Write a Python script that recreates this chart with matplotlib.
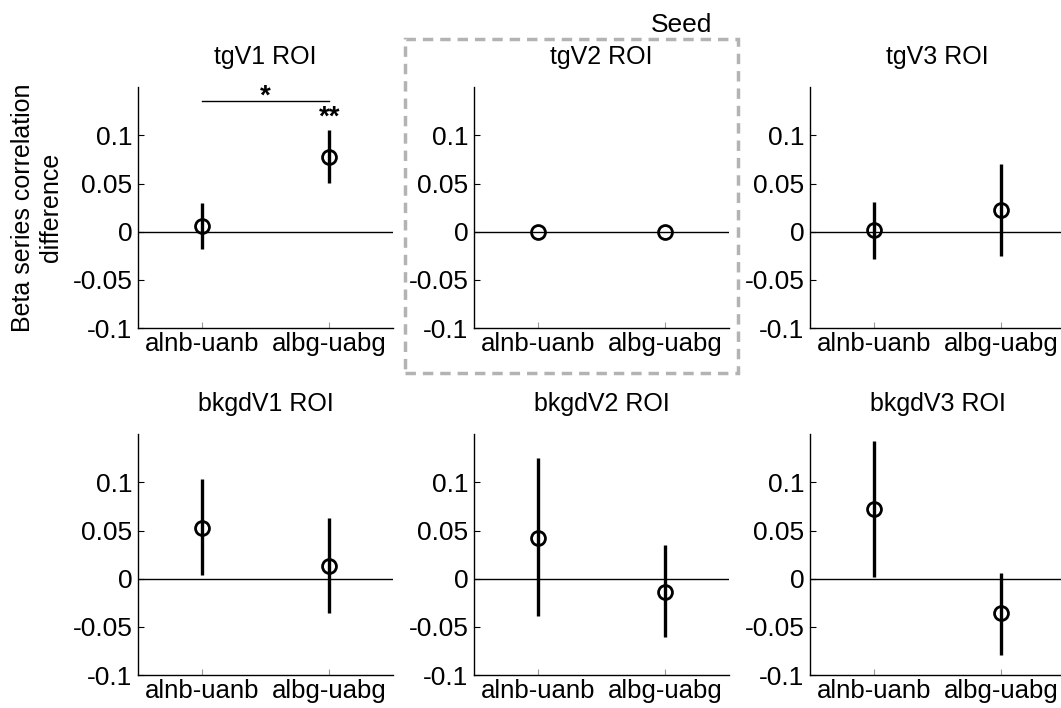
import matplotlib.pyplot as plt
from matplotlib.patches import Rectangle

plt.rcParams['font.family'] = ['Liberation Sans', 'DejaVu Sans']

# Data
conditions = ['alnb-uanb', 'albg-uabg']
titles = ['tgV1 ROI', 'tgV2 ROI', 'tgV3 ROI', 'bkgdV1 ROI', 'bkgdV2 ROI', 'bkgdV3 ROI']
means = [
    [0.006, 0.078],
    [0.0, 0.0],
    [0.002, 0.023],
    [0.053, 0.013],
    [0.042, -0.0135],
    [0.072, -0.036],
]
err_low = [
    [-0.018, 0.051],
    [0.0, 0.0],
    [-0.028, -0.025],
    [0.004, -0.036],
    [-0.039, -0.061],
    [0.002, -0.079],
]
err_high = [
    [0.030, 0.106],
    [0.0, 0.0],
    [0.031, 0.070],
    [0.104, 0.063],
    [0.125, 0.035],
    [0.143, 0.006],
]
yticks = [-0.1, -0.05, 0, 0.05, 0.1]
ytick_labels = ['-0.1', '-0.05', '0', '0.05', '0.1']

fig = plt.figure(figsize=(10.61, 7.08), dpi=100)

lefts = [0.1301, 0.4467, 0.7634]
bottoms = [0.5367, 0.0466]
w, h = 0.2403, 0.340

x = [1, 2]
axes = []
for i in range(6):
    r, c = divmod(i, 3)
    ax = fig.add_axes([lefts[c], bottoms[r], w, h])
    axes.append(ax)
    m = means[i]
    lo = [m[k] - err_low[i][k] for k in range(2)]
    hi = [err_high[i][k] - m[k] for k in range(2)]
    ax.axhline(0, color='black', lw=1, zorder=1)
    ax.errorbar(x, m, yerr=[lo, hi], fmt='o', color='black', ecolor='black',
                elinewidth=2.4, capsize=0, markersize=10, markerfacecolor='none',
                markeredgewidth=2, zorder=3)
    ax.set_xlim(0.5, 2.5)
    ax.set_ylim(-0.1, 0.15)
    ax.set_yticks(yticks)
    ax.set_yticklabels(ytick_labels, fontsize=19)
    ax.set_xticks(x)
    ax.set_xticklabels(conditions, fontsize=18.5)
    ax.tick_params(direction='in', length=4, width=0.8, pad=4)
    ax.tick_params(axis='x', colors='#999999', labelcolor='black', pad=3)
    ax.spines['top'].set_visible(False)
    ax.spines['right'].set_visible(False)
    ax.spines['left'].set_linewidth(1)
    ax.spines['bottom'].set_linewidth(1)
    ax.patch.set_alpha(0)
    ax.set_title(titles[i], fontsize=18, pad=17)

axes[0].set_ylabel('Beta series correlation\ndifference', fontsize=18)
axes[0].yaxis.set_label_coords(-0.295, 0.5)

# Significance markers on tgV1
ax0 = axes[0]
ax0.plot([1, 2], [0.136, 0.136], color='black', lw=1, clip_on=False)
ax0.text(1.5, 0.127, '*', ha='center', va='bottom', fontsize=20, fontweight='bold')
ax0.text(2, 0.105, '**', ha='center', va='bottom', fontsize=20, fontweight='bold')

# Seed box around tgV2
box = Rectangle((405 / 1061, 1 - 373 / 708), (738 - 405) / 1061, (373 - 39) / 708,
                transform=fig.transFigure, fill=False, edgecolor='#b3b3b3',
                lw=2.5, linestyle=(0, (3, 2)))
fig.patches.append(box)
fig.text(682 / 1061, 1 - 25 / 708, 'Seed', ha='center', va='center', fontsize=19)

fig.savefig('out.png', dpi=100)
